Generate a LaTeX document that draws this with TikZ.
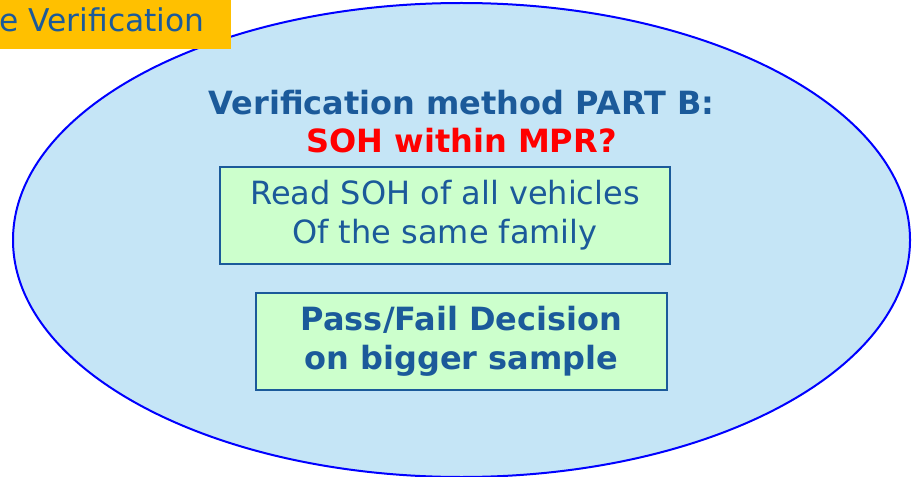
\documentclass[tikz,border=0pt]{standalone}
\usepackage{fontspec}
\setmainfont{DejaVu Sans}

\definecolor{textblue}{HTML}{1B5A9A}
\definecolor{ovalblue}{HTML}{C5E5F6}
\definecolor{boxgreen}{HTML}{CCFFCC}
\definecolor{tagorange}{HTML}{FFC000}

\begin{document}
\begin{tikzpicture}[x=0.75pt,y=-0.75pt,
  stepbox/.style={draw=textblue, line width=1.5pt, fill=boxgreen,
    text=textblue, align=center, inner sep=0pt},
  headline/.style={font=\fontsize{24}{29}\selectfont\bfseries, anchor=base}]

\useasboundingbox (0,0) rectangle (912,477);

% Oval
\fill[ovalblue] (461.5,240) ellipse [x radius=448.5, y radius=237];
\draw[blue, line width=1.5pt] (461.5,240) ellipse [x radius=448.5, y radius=237];

% Tag in the corner
\fill[tagorange] (0,0) rectangle (231,49);
\node[anchor=base west, inner sep=0pt, text=textblue,
  font=\fontsize{23.5}{28}\selectfont] (tag) at (-1,32) {e Verification};

% Headings
\node[headline, text=textblue] (title) at (461.5,114.3) {Verification method PART B:};
\node[headline, text=red] (question) at (461.5,152.7) {SOH within MPR?};

% Boxes
\node[stepbox, minimum width=337.5pt, minimum height=72.75pt,
  font=\fontsize{24}{29.25}\selectfont] (read) at (445,215.5)
  {Read SOH of all vehicles\\Of the same family};
\node[stepbox, minimum width=308.25pt, minimum height=72.75pt,
  font=\fontsize{24}{29.25}\selectfont\bfseries] (decision) at (461.5,341.5)
  {Pass/Fail Decision\\on bigger sample};

\end{tikzpicture}
\end{document}
